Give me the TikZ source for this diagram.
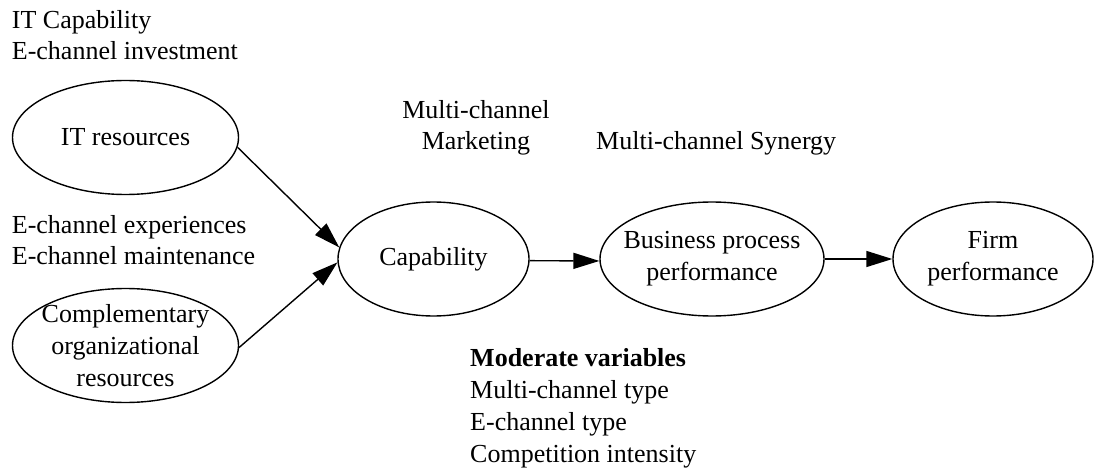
\documentclass[tikz,border=0pt]{standalone}
\usepackage{fontspec}
\setmainfont{Liberation Serif}
\usetikzlibrary{shapes.geometric,arrows.meta}
\begin{document}
\begin{tikzpicture}[x=1pt,y=-1pt,
  every node/.style={font=\fontsize{26}{31.7}\selectfont, inner sep=0pt},
  oval/.style={ellipse, draw, line width=1.4pt, align=center, inner sep=-14pt, minimum height=114pt},
  lbl/.style={align=left, anchor=base west},
  flow/.style={line width=1.4pt, -{Triangle[length=26pt,width=16pt]}}]
\useasboundingbox (0,0) rectangle (1094,470);
\node[oval, minimum width=226pt] (it) at (125.5,137.5) {IT resources};
\node[oval, minimum width=226pt] (comp) at (125.5,345.5) {Complementary\\organizational\\resources};
\node[oval, minimum width=191pt] (cap) at (433.5,259) {Capability};
\node[oval, minimum width=224pt] (bus) at (712,259) {Business process\\performance};
\node[oval, minimum width=200pt] (firm) at (993,259) {Firm\\performance};
\draw[flow] (it.-5) -- (cap.173.5);
\draw[flow] (comp.-1) -- (cap.182);
\draw[flow] (cap.-1.5) -- (bus.181.5);
\draw[flow] (bus.east) -- (firm.west);
\node[lbl] (t1) at (11.7,60) {IT Capability\\E-channel investment};
\node[lbl] (t2) at (11.7,265) {E-channel experiences\\E-channel maintenance};
\node[align=center, anchor=base] (t3) at (476,150) {Multi-channel\\Marketing};
\node[anchor=base west] (t4) at (596,150) {Multi-channel Synergy};
\node[lbl] (t5) at (470,462) {\textbf{Moderate variables}\\Multi-channel type\\E-channel type\\Competition intensity};
\end{tikzpicture}
\end{document}
